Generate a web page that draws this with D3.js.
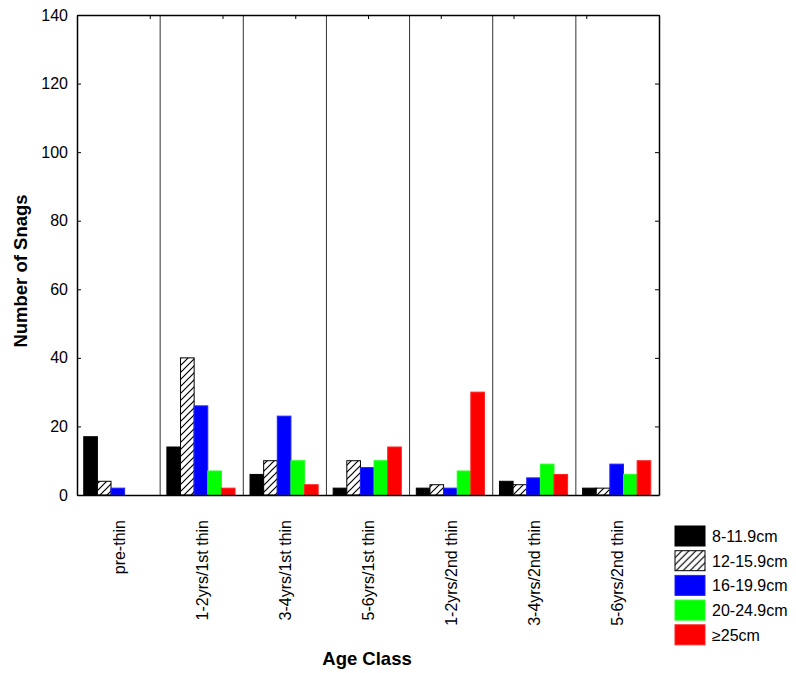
<!DOCTYPE html>
<html>
<head>
<meta charset="utf-8">
<script src="https://cdn.jsdelivr.net/npm/d3@7"></script>
<style>
  body { margin: 0; background: #fff; }
  svg text { font-family: Arial, "Liberation Sans", sans-serif; }
  .axis path, .axis line { stroke: #000; }
</style>
</head>
<body>
<div id="c"></div>
<script>
// age classes along x
var ageClasses = ["pre-thin", "1-2yrs/1st thin", "3-4yrs/1st thin", "5-6yrs/1st thin",
	"1-2yrs/2nd thin", "3-4yrs/2nd thin", "5-6yrs/2nd thin"];

// diameter classes (legend)
var sizeClasses = ["8-11.9cm", "12-15.9cm", "16-19.9cm", "20-24.9cm", "\u226525cm"];

// snag counts per age class, one array per diameter class
var snags_8_12  = [17, 14, 6, 2, 2, 4, 2];
var snags_12_16 = [4, 40, 10, 10, 3, 3, 2];
var snags_16_20 = [2, 26, 23, 8, 2, 5, 9];
var snags_20_25 = [0, 7, 10, 10, 7, 9, 6];
var snags_25    = [0, 2, 3, 14, 30, 6, 10];

var yTicks = [0, 20, 40, 60, 80, 100, 120, 140];

var series = [snags_8_12, snags_12_16, snags_16_20, snags_20_25, snags_25];
var fills = ["#000000", "url(#hatch)", "#0000ff", "#00ff00", "#ff0000"];
var strokes = ["#000000", "#000000", "#2222ff", "#22ff22", "#ff2222"];

var width = 796, height = 673;
var plot_l = 77, plot_r = 659, plot_t = 15, plot_b = 495;

var svg = d3.select("#c").append("svg")
	.attr("width", width)
	.attr("height", height);

// hatch pattern for 12-15.9cm
var pat = svg.append("defs").append("pattern")
	.attr("id", "hatch")
	.attr("patternUnits", "userSpaceOnUse")
	.attr("width", 7)
	.attr("height", 7);
pat.append("rect").attr("width", 7).attr("height", 7).attr("fill", "#fff");
pat.append("path")
	.attr("d", "M-1,8 L8,-1 M-1,1 L1,-1 M6,8 L8,6")
	.attr("stroke", "#000")
	.attr("stroke-width", 1.2);

var x_scale = d3.scaleBand()
	.domain(ageClasses)
	.range([plot_l, plot_r])
	.padding(0);

var x_inner = d3.scaleBand()
	.domain(d3.range(sizeClasses.length))
	.range([0, x_scale.bandwidth()])
	.paddingInner(0)
	.paddingOuter(0.55)
	.align(0.45);

var y_scale = d3.scaleLinear()
	.domain([0, 140])
	.range([plot_b, plot_t]);

// separators between age classes
svg.append("g")
	.selectAll("line")
	.data(ageClasses.slice(1))
	.enter()
	.append("line")
	.attr("x1", function(d) { return x_scale(d); })
	.attr("x2", function(d) { return x_scale(d); })
	.attr("y1", plot_t)
	.attr("y2", plot_b)
	.attr("stroke", "#333")
	.attr("stroke-width", 1);

// bars
var groups = svg.append("g")
	.selectAll("g")
	.data(series)
	.enter()
	.append("g");

groups.selectAll("rect")
	.data(function(d, si) { return d.map(function(v, i) { return {v: v, i: i, s: si}; }); })
	.enter()
	.append("rect")
	.attr("x", function(d) { return x_scale(ageClasses[d.i]) + x_inner(d.s); })
	.attr("width", x_inner.bandwidth())
	.attr("y", function(d) { return y_scale(d.v); })
	.attr("height", function(d) { return y_scale(0) - y_scale(d.v); })
	.attr("fill", function(d) { return fills[d.s]; })
	.attr("stroke", function(d) { return strokes[d.s]; })
	.attr("stroke-width", 1);

// axes (ticks point inward)
svg.append("g")
	.attr("class", "axis")
	.attr("transform", "translate(" + plot_l + ",0)")
	.call(d3.axisLeft(y_scale).tickValues(yTicks).tickSizeInner(-4).tickSizeOuter(0).tickPadding(9))
	.call(function(g) {
		g.select(".domain").attr("stroke-width", 1.5);
		g.selectAll("text").attr("font-size", 16).attr("font-family", "Arial, 'Liberation Sans', sans-serif");
	});

svg.append("g")
	.attr("class", "axis")
	.attr("transform", "translate(" + plot_r + ",0)")
	.call(d3.axisLeft(y_scale).tickValues(yTicks).tickSizeInner(4).tickSizeOuter(0).tickFormat(""))
	.call(function(g) { g.select(".domain").attr("stroke-width", 1.5); });

var top_scale = d3.scaleLinear().domain([0, 8]).range([plot_l, plot_r]);
svg.append("g")
	.attr("class", "axis")
	.attr("transform", "translate(0," + plot_t + ")")
	.call(d3.axisBottom(top_scale).ticks(8).tickSizeInner(4).tickSizeOuter(0).tickFormat(""))
	.call(function(g) { g.select(".domain").attr("stroke-width", 1.5); });

svg.append("g")
	.attr("class", "axis")
	.attr("transform", "translate(0," + plot_b + ")")
	.call(d3.axisTop(x_scale).tickSize(0).tickFormat(""))
	.call(function(g) { g.select(".domain").attr("stroke-width", 1.5); });

// rotated category labels
svg.append("g")
	.selectAll("text")
	.data(ageClasses)
	.enter()
	.append("text")
	.attr("transform", function(d) {
		return "translate(" + (x_scale(d) + x_scale.bandwidth() / 2 + 6) + "," + 520 + ") rotate(-90)";
	})
	.attr("text-anchor", "end")
	.attr("font-size", 16)
	.text(function(d) { return d; });

// axis titles
svg.append("text")
	.attr("transform", "translate(27,271) rotate(-90)")
	.attr("text-anchor", "middle")
	.attr("font-size", 18.5)
	.attr("font-weight", "bold")
	.text("Number of Snags");

svg.append("text")
	.attr("x", 367)
	.attr("y", 665)
	.attr("text-anchor", "middle")
	.attr("font-size", 18.5)
	.attr("font-weight", "bold")
	.text("Age Class");

// legend
var legend = svg.append("g")
	.attr("transform", "translate(675,526)");

var leg = legend.selectAll("g")
	.data(sizeClasses)
	.enter()
	.append("g")
	.attr("transform", function(d, i) { return "translate(0," + (i * 24.7) + ")"; });

leg.append("rect")
	.attr("width", 30)
	.attr("height", 20)
	.attr("fill", function(d, i) { return fills[i]; })
	.attr("stroke", function(d, i) { return strokes[i]; })
	.attr("stroke-width", 1);

leg.append("text")
	.attr("x", 37)
	.attr("y", 16)
	.attr("font-size", 16)
	.text(function(d) { return d; });
</script>
</body>
</html>
